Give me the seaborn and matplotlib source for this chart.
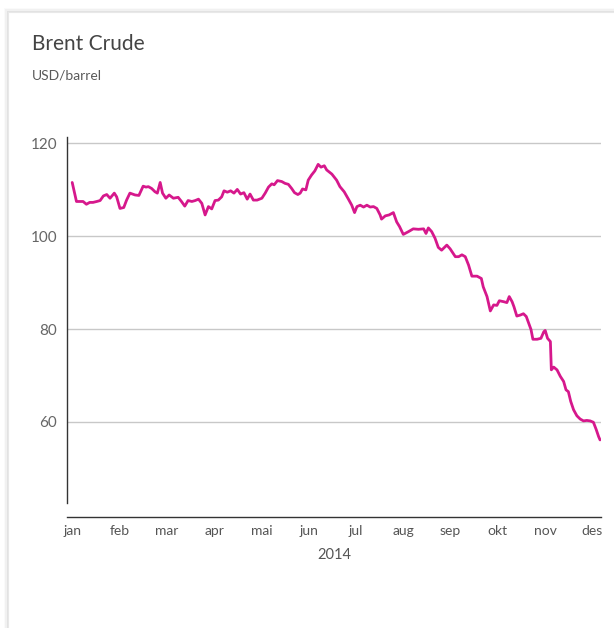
import pandas as pd
import numpy as np
import seaborn as sns
import matplotlib.pyplot as plt
from matplotlib.patches import Rectangle

# Brent Crude 2014, position measured in months from start of January
month_pos = [0.00, 0.09, 0.23, 0.30, 0.37, 0.44, 0.52, 0.59, 0.66, 0.73, 0.80, 0.89, 0.94,
             1.01, 1.09, 1.15, 1.22, 1.33, 1.41, 1.50, 1.56, 1.61, 1.68, 1.75, 1.80, 1.86, 1.91, 1.98,
             2.05, 2.14, 2.24, 2.31, 2.38, 2.45, 2.53, 2.60, 2.67, 2.74, 2.81, 2.88, 2.95,
             3.02, 3.09, 3.16, 3.21, 3.28, 3.35, 3.42, 3.49, 3.56, 3.63, 3.70, 3.76, 3.83, 3.91,
             4.01, 4.08, 4.15, 4.22, 4.27, 4.34, 4.43, 4.50, 4.57, 4.64, 4.70, 4.77, 4.82, 4.87, 4.94, 4.99,
             5.06, 5.13, 5.20, 5.26, 5.33, 5.38, 5.49, 5.59, 5.66, 5.75, 5.84, 5.91, 5.97,
             6.02, 6.09, 6.16, 6.23, 6.30, 6.37, 6.44, 6.51, 6.54, 6.62, 6.70, 6.79, 6.86, 6.92,
             7.00, 7.11, 7.21, 7.32, 7.43, 7.48, 7.53, 7.60, 7.67, 7.74, 7.81, 7.92, 7.99,
             8.10, 8.17, 8.24, 8.31, 8.38, 8.45, 8.56, 8.65, 8.69, 8.77, 8.84, 8.91, 8.98,
             9.03, 9.12, 9.19, 9.24, 9.30, 9.34, 9.40, 9.47, 9.54, 9.60, 9.65, 9.70, 9.74, 9.83, 9.91, 9.97,
             10.00, 10.05, 10.11, 10.13, 10.18, 10.25, 10.32, 10.39, 10.44, 10.49, 10.54, 10.60, 10.67,
             10.74, 10.81, 10.88, 10.95, 11.02, 11.08, 11.13, 11.16]
price = [111.6, 107.5, 107.5, 106.9, 107.3, 107.3, 107.5, 107.7, 108.7, 109.0, 108.2, 109.3, 108.5,
         106.0, 106.2, 107.8, 109.3, 108.9, 108.8, 110.8, 110.6, 110.7, 110.3, 109.6, 109.3, 111.6, 109.3, 108.2,
         108.9, 108.2, 108.4, 107.5, 106.5, 107.7, 107.5, 107.7, 108.0, 107.1, 104.6, 106.4, 105.9,
         107.7, 107.8, 108.5, 109.8, 109.5, 109.8, 109.3, 110.1, 109.1, 109.4, 108.0, 109.1, 107.8, 107.8,
         108.2, 109.3, 110.6, 111.3, 111.1, 112.0, 111.8, 111.4, 111.2, 110.3, 109.4, 109.0, 109.3, 110.2, 110.0, 112.1,
         113.2, 114.1, 115.5, 114.9, 115.2, 114.3, 113.4, 112.1, 110.7, 109.6, 108.0, 106.7, 105.1,
         106.4, 106.7, 106.3, 106.7, 106.3, 106.4, 106.0, 104.6, 103.7, 104.4, 104.6, 105.1, 103.1, 102.1,
         100.4, 101.0, 101.6, 101.5, 101.6, 100.6, 101.8, 101.0, 99.6, 97.6, 97.0, 98.1, 97.3,
         95.6, 95.6, 96.0, 95.6, 93.8, 91.4, 91.4, 90.9, 89.1, 87.0, 83.9, 85.2, 85.1,
         86.1, 85.9, 85.7, 87.0, 85.9, 84.8, 82.8, 83.0, 83.3, 82.7, 81.3, 79.9, 77.8, 77.8, 78.0, 79.4,
         79.7, 78.0, 77.3, 71.2, 71.8, 71.2, 69.8, 68.7, 66.9, 66.5, 64.4, 62.6, 61.3,
         60.6, 60.2, 60.3, 60.2, 59.9, 58.3, 56.8, 56.1]

month_labels = ["jan", "feb", "mar", "apr", "mai", "jun", "jul", "aug", "sep", "okt", "nov", "des"]
y_ticks = [60, 80, 100, 120]

df = pd.DataFrame({"month": month_pos, "price": price})

sns.set_theme(style="white")
plt.rcParams["font.family"] = ["Lato", "DejaVu Sans"]

fig = plt.figure(figsize=(6.14, 6.28), dpi=100)

# card with a soft shadow on the left/top edge
card_x, card_top = 8 / 614, 1 - 12 / 628
for i, a in enumerate([0.06, 0.035, 0.02]):
    d = (i + 1) * 1.5
    fig.patches.append(Rectangle((card_x - d / 614, -0.5), 2, card_top + 0.5 + d / 628,
                                 transform=fig.transFigure, facecolor=(0, 0, 0, a),
                                 edgecolor="none", zorder=-12 + i))
fig.patches.append(Rectangle((card_x, -0.5), 2, card_top + 0.5,
                             transform=fig.transFigure, facecolor="white",
                             edgecolor="#e8e8e8", linewidth=0.8, zorder=-5))

ax = fig.add_axes([67 / 614, 1 - 503 / 628, (601 - 67) / 614, (503 - 137) / 628])
ax.set_facecolor("none")

sns.lineplot(data=df, x="month", y="price", ax=ax, color="#d6188c", linewidth=2)

ax.set_xlim(-0.11, 11.18)
ax.set_ylim(42.5, 121.4)
ax.set_yticks(y_ticks)
ax.set_xticks(range(12))
ax.set_xticklabels(month_labels)
ax.tick_params(axis="y", length=0, pad=7, labelsize=11, labelcolor="#666666")
ax.tick_params(axis="x", length=0, pad=6, labelsize=10, labelcolor="#555555")
ax.grid(axis="y", color="#c8c8c8", linewidth=1)
ax.set_xlabel("2014", fontsize=10.5, color="#555555", labelpad=8)
ax.set_ylabel("")

for s in ["top", "right"]:
    ax.spines[s].set_visible(False)
ax.spines["left"].set_color("#333333")
ax.spines["left"].set_linewidth(1)
ax.spines["bottom"].set_color("#333333")
ax.spines["bottom"].set_linewidth(1)
ax.spines["bottom"].set_position(("outward", 10))

fig.text(32 / 614, 1 - 44 / 628, "Brent Crude", fontsize=15,
         color="#444444", va="center", ha="left")
fig.text(32 / 614, 1 - 76 / 628, "USD/barrel", fontsize=10,
         color="#5a5a5a", va="center", ha="left")

fig.savefig("out.png", dpi=100)
